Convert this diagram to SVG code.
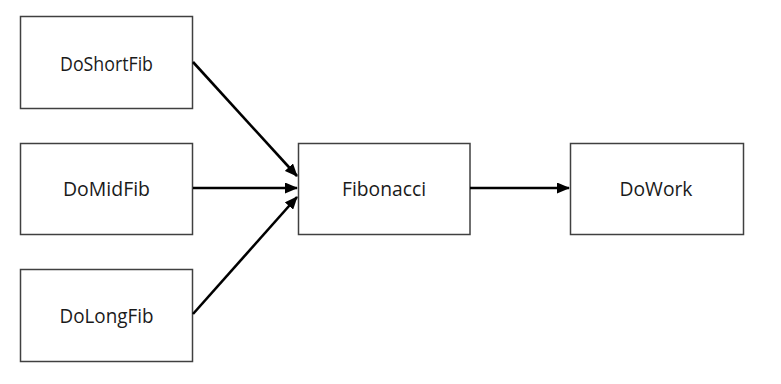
<svg xmlns="http://www.w3.org/2000/svg" width="781" height="384" viewBox="0 0 781 384">
<style>
.box{fill:#fff;stroke:#404040;stroke-width:1.5}
.lbl{font-family:"Open Sans","Liberation Sans",sans-serif;font-size:19.5px;fill:#1a1a1a;text-anchor:middle}
.edge{stroke:#000;stroke-width:2.6;fill:none;marker-end:url(#ah)}
</style>
<defs>
<marker id="ah" markerWidth="13" markerHeight="11" refX="12" refY="5.5" orient="auto" markerUnits="userSpaceOnUse">
<path d="M0,0 L13,5.5 L0,11 Z" fill="#000"/>
</marker>
</defs>
<rect width="781" height="384" fill="#fff"/>
<g id="DoShortFib"><rect class="box" x="20.5" y="16.5" width="172" height="92"/><text class="lbl" x="106.5" y="71" textLength="93" lengthAdjust="spacingAndGlyphs">DoShortFib</text></g>
<g id="DoMidFib"><rect class="box" x="20.5" y="143.5" width="172" height="91"/><text class="lbl" x="106.5" y="196" textLength="87" lengthAdjust="spacingAndGlyphs">DoMidFib</text></g>
<g id="DoLongFib"><rect class="box" x="20.5" y="269.5" width="172" height="92"/><text class="lbl" x="106.5" y="323" textLength="94" lengthAdjust="spacingAndGlyphs">DoLongFib</text></g>
<g id="Fibonacci"><rect class="box" x="298.5" y="143.5" width="171.5" height="91"/><text class="lbl" x="384" y="196" textLength="84" lengthAdjust="spacingAndGlyphs">Fibonacci</text></g>
<g id="DoWork"><rect class="box" x="570.5" y="143.5" width="173" height="91"/><text class="lbl" x="656" y="196" textLength="73" lengthAdjust="spacingAndGlyphs">DoWork</text></g>
<g id="connectors">
<line class="edge" x1="193" y1="62" x2="297" y2="176"/>
<line class="edge" x1="193" y1="188" x2="297" y2="188"/>
<line class="edge" x1="193" y1="314" x2="297" y2="197"/>
<line class="edge" x1="470" y1="188" x2="569" y2="188"/>
</g>
</svg>
